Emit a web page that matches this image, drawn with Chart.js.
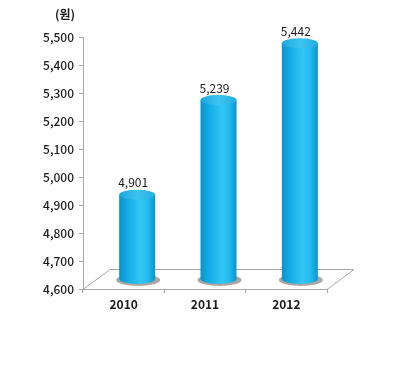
<!DOCTYPE html>
<html><head><meta charset="utf-8">
<script src="https://cdn.jsdelivr.net/npm/chart.js@4"></script>
<style>html,body{margin:0;padding:0;background:#fff}#wrap{width:400px;height:368px;position:relative}</style>
</head><body><div id="wrap"><canvas id="c" width="400" height="368"></canvas></div>
<script>
const categories = ["2010", "2011", "2012"];
const values = [4901, 5239, 5442];
const yMin = 4600, yMax = 5500, yStep = 100;
const unitLabel = "(원)";

const FONT = "'Noto Sans CJK KR', 'Noto Sans', sans-serif";
const DX = 27, DY = -20; // floor depth

const cylPlugin = {
  id: 'cyl',
  beforeDatasetsDraw(chart) {
    const ctx = chart.ctx, a = chart.chartArea;
    ctx.save();
    ctx.strokeStyle = '#a8a8a8'; ctx.lineWidth = 1;
    ctx.beginPath();
    ctx.moveTo(a.left, a.bottom + 0.5);
    ctx.lineTo(a.left + DX, a.bottom + DY + 0.5);
    ctx.lineTo(a.right + DX, a.bottom + DY + 0.5);
    ctx.lineTo(a.right, a.bottom + 0.5);
    ctx.closePath();
    ctx.stroke();
    ctx.restore();
  },
  beforeDatasetDraw(chart, args) {
    const ctx = chart.ctx;
    const meta = args.meta;
    const yScale = chart.scales.y;
    const basePx = yScale.getPixelForValue(yMin);
    ctx.save();
    meta.data.forEach((bar, i) => {
      const w = 36, rx = w / 2, ry = 5;
      const cx = bar.x + DX / 2;
      const top = bar.y + DY / 2;
      const bot = basePx + DY / 2;
      // shadow
      ctx.fillStyle = 'rgba(110,95,80,0.55)';
      ctx.beginPath();
      ctx.ellipse(cx + 1, bot + 1, rx + 4, ry + 1, 0, 0, Math.PI * 2);
      ctx.fill();
      // body
      const g = ctx.createLinearGradient(cx - rx, 0, cx + rx, 0);
      g.addColorStop(0, '#0a93cc');
      g.addColorStop(0.25, '#14aee6');
      g.addColorStop(0.6, '#34c6f4');
      g.addColorStop(0.8, '#22baee');
      g.addColorStop(1, '#0a94cc');
      ctx.fillStyle = g;
      ctx.beginPath();
      ctx.moveTo(cx - rx, top);
      ctx.lineTo(cx - rx, bot);
      ctx.ellipse(cx, bot, rx, ry, 0, Math.PI, 0, true);
      ctx.lineTo(cx + rx, top);
      ctx.closePath();
      ctx.fill();
      // top
      const g2 = ctx.createLinearGradient(cx - rx, 0, cx + rx, 0);
      g2.addColorStop(0, '#1aa6dc');
      g2.addColorStop(0.5, '#3ec4f0');
      g2.addColorStop(1, '#22aee2');
      ctx.fillStyle = g2;
      ctx.beginPath();
      ctx.ellipse(cx, top, rx, ry, 0, 0, Math.PI * 2);
      ctx.fill();
      // value label
      ctx.fillStyle = '#1a1a1a';
      ctx.font = '12px ' + FONT;
      ctx.textAlign = 'center';
      ctx.textBaseline = 'middle';
      ctx.fillText(values[i].toLocaleString('en-US'), cx - 4, top - 12);
    });
    ctx.restore();
    return false;
  },
  afterDraw(chart) {
    const ctx = chart.ctx;
    ctx.save();
    ctx.fillStyle = '#1a1a1a';
    ctx.font = 'bold 12px ' + FONT;
    ctx.textAlign = 'center';
    ctx.textBaseline = 'middle';
    ctx.fillText(unitLabel, 65, 14);
    ctx.restore();
  }
};

new Chart(document.getElementById('c'), {
  type: 'bar',
  data: { labels: categories, datasets: [{ data: values, backgroundColor: '#19b0e6' }] },
  options: {
    responsive: false,
    animation: false,
    layout: { padding: { top: 37, right: 73, bottom: 0, left: 0 } },
    plugins: { legend: { display: false }, tooltip: { enabled: false } },
    scales: {
      x: {
        offset: true,
        grid: { display: true, offset: true, drawOnChartArea: false, drawTicks: true, tickLength: 4, color: '#a8a8a8' },
        border: { display: false },
        ticks: { color: '#1a1a1a', font: { family: FONT, size: 12, weight: '600' }, padding: 4 },
        afterFit(s) { s.height = 79; }
      },
      y: {
        min: yMin, max: yMax,
        ticks: { stepSize: yStep, color: '#1a1a1a', font: { family: FONT, size: 12, weight: '500' }, padding: 5,
          callback: v => v.toLocaleString('en-US') },
        grid: { display: true, drawOnChartArea: false, drawTicks: true, tickLength: 4, color: '#a8a8a8' },
        border: { display: true, color: '#a8a8a8' },
        afterFit(s) { s.width = 83; }
      }
    }
  },
  plugins: [cylPlugin]
});
</script></body></html>
